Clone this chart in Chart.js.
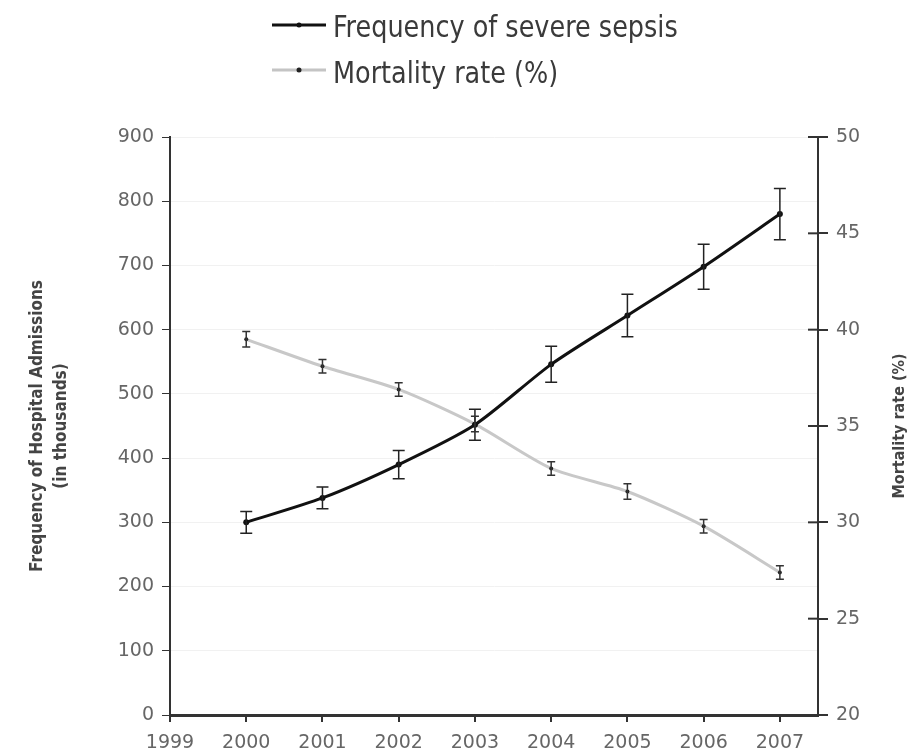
<!DOCTYPE html>
<html>
<head>
<meta charset="utf-8">
<script src="https://cdn.jsdelivr.net/npm/chart.js"></script>
<style>
  html, body { margin: 0; padding: 0; background: #ffffff; }
  #wrap { width: 916px; height: 755px; }
</style>
</head>
<body>
<div id="wrap"><canvas id="sepsisChart" width="916" height="755"></canvas></div>
<script>
// Datos
const years = [2000, 2001, 2002, 2003, 2004, 2005, 2006, 2007];
const frequency = [300, 338, 390, 452, 546, 622, 698, 780];
const frequencyErr = [17, 17, 22, 24, 28, 33, 35, 40];
const mortality = [39.5, 38.1, 36.9, 35.1, 32.8, 31.6, 29.8, 27.4];
const mortalityErr = [0.4, 0.35, 0.35, 0.4, 0.35, 0.4, 0.35, 0.35];

const xTicks = [1999, 2000, 2001, 2002, 2003, 2004, 2005, 2006, 2007];
const xRange = [1999, 2007.5];
const leftRange = [0, 900];
const rightRange = [20, 50];

const legendLabels = ['Frequency of severe sepsis', 'Mortality rate (%)'];
const leftTitle = ['Frequency of Hospital Admissions', '(in thousands)'];
const rightTitle = 'Mortality rate (%)';

const tickFont = { family: 'DejaVu Sans', size: 19 };
const tickColor = '#666666';
const axisColor = '#333333';
const narrowFont = '"Liberation Sans Narrow", "DejaVu Sans Condensed", sans-serif';

// Barras de error para las dos series
const errorBars = {
    id: 'errorBars',
    afterDatasetsDraw(chart) {
        const ctx = chart.ctx;
        const errs = [frequencyErr, mortalityErr];
        chart.data.datasets.forEach((ds, i) => {
            const meta = chart.getDatasetMeta(i);
            const yScale = chart.scales[meta.yAxisID];
            ctx.save();
            ctx.strokeStyle = i === 0 ? '#222222' : '#333333';
            ctx.lineWidth = 1.5;
            meta.data.forEach((pt, j) => {
                const v = ds.data[j].y;
                const top = yScale.getPixelForValue(v + errs[i][j]);
                const bot = yScale.getPixelForValue(v - errs[i][j]);
                const cap = i === 0 ? 6 : 4;
                ctx.beginPath();
                ctx.moveTo(pt.x, top); ctx.lineTo(pt.x, bot);
                ctx.moveTo(pt.x - cap, top); ctx.lineTo(pt.x + cap, top);
                ctx.moveTo(pt.x - cap, bot); ctx.lineTo(pt.x + cap, bot);
                ctx.stroke();
            });
            ctx.restore();
        });
    }
};

// Leyenda, titulos de ejes y marcas interiores del eje derecho
const decorations = {
    id: 'decorations',
    afterDraw(chart) {
        const ctx = chart.ctx;
        const area = chart.chartArea;
        ctx.save();

        // marcas del eje derecho que cruzan hacia dentro
        const ry = chart.scales.yRight;
        ctx.strokeStyle = axisColor;
        ctx.lineWidth = 2;
        ry.ticks.forEach(t => {
            const y = ry.getPixelForValue(t.value);
            ctx.beginPath();
            ctx.moveTo(area.right - 10, y);
            ctx.lineTo(area.right, y);
            ctx.stroke();
        });

        // leyenda
        const rows = [
            { y: 25, line: '#111111', dot: '#111111', text: legendLabels[0], baseline: 37 },
            { y: 70, line: '#c4c4c4', dot: '#222222', text: legendLabels[1], baseline: 83 }
        ];
        rows.forEach(r => {
            ctx.strokeStyle = r.line;
            ctx.lineWidth = 3;
            ctx.beginPath();
            ctx.moveTo(272, r.y);
            ctx.lineTo(326, r.y);
            ctx.stroke();
            ctx.fillStyle = r.dot;
            ctx.beginPath();
            ctx.arc(299, r.y, 2.5, 0, Math.PI * 2);
            ctx.fill();
            ctx.fillStyle = '#3a3a3a';
            ctx.font = '31px ' + narrowFont;
            ctx.textAlign = 'left';
            ctx.textBaseline = 'alphabetic';
            ctx.save();
            ctx.translate(333, r.baseline);
            ctx.scale(0.915, 1);
            ctx.fillText(r.text, 0, 0);
            ctx.restore();
        });

        // titulo eje izquierdo
        const midY = (area.top + area.bottom) / 2;
        ctx.fillStyle = '#444444';
        ctx.font = 'bold 17px ' + narrowFont;
        ctx.textAlign = 'center';
        ctx.textBaseline = 'middle';
        ctx.translate(38, midY);
        ctx.rotate(-Math.PI / 2);
        ctx.fillText(leftTitle[0], 0, 0);
        ctx.fillText(leftTitle[1], 0, 24);
        ctx.setTransform(1, 0, 0, 1, 0, 0);

        // titulo eje derecho
        ctx.font = 'bold 16px ' + narrowFont;
        ctx.translate(900, midY);
        ctx.rotate(-Math.PI / 2);
        ctx.fillText(rightTitle, 0, 0);
        ctx.restore();
    }
};

const ctx = document.getElementById('sepsisChart').getContext('2d');
new Chart(ctx, {
    type: 'line',
    data: {
        datasets: [{
            label: legendLabels[0],
            data: years.map((yr, i) => ({ x: yr, y: frequency[i] })),
            yAxisID: 'yLeft',
            borderColor: '#111111',
            backgroundColor: '#111111',
            borderWidth: 3,
            pointRadius: 3,
            pointBorderWidth: 0,
            tension: 0.25
        }, {
            label: legendLabels[1],
            data: years.map((yr, i) => ({ x: yr, y: mortality[i] })),
            yAxisID: 'yRight',
            borderColor: '#c8c8c8',
            backgroundColor: '#222222',
            borderWidth: 3,
            pointRadius: 2,
            pointBorderWidth: 0,
            tension: 0.25
        }]
    },
    options: {
        responsive: false,
        devicePixelRatio: 1,
        animation: false,
        layout: { padding: { top: 137, left: 0, right: 0, bottom: 0 } },
        plugins: {
            legend: { display: false },
            tooltip: { enabled: false }
        },
        scales: {
            x: {
                type: 'linear',
                min: xRange[0],
                max: xRange[1],
                afterBuildTicks: scale => {
                    scale.ticks = xTicks.map(v => ({ value: v }));
                },
                afterFit: scale => { scale.height = 40; },
                ticks: {
                    color: tickColor,
                    font: tickFont,
                    padding: 10,
                    maxRotation: 0,
                    autoSkip: false,
                    callback: v => String(v)
                },
                grid: { drawOnChartArea: false, tickColor: axisColor, tickLength: 7, lineWidth: 2 },
                border: { color: axisColor, width: 3 }
            },
            yLeft: {
                position: 'left',
                min: leftRange[0],
                max: leftRange[1],
                afterFit: scale => { scale.width = 170; },
                ticks: { stepSize: 100, color: tickColor, font: tickFont, padding: 8 },
                grid: { color: '#f1f1f1', lineWidth: 1, tickColor: axisColor, tickLength: 8 },
                border: { color: axisColor, width: 2 }
            },
            yRight: {
                position: 'right',
                min: rightRange[0],
                max: rightRange[1],
                afterFit: scale => { scale.width = 98; },
                ticks: { stepSize: 5, color: tickColor, font: tickFont, padding: 8 },
                grid: { drawOnChartArea: false, tickColor: axisColor, tickLength: 10, lineWidth: 2 },
                border: { color: axisColor, width: 2 }
            }
        }
    },
    plugins: [errorBars, decorations]
});
</script>
</body>
</html>
